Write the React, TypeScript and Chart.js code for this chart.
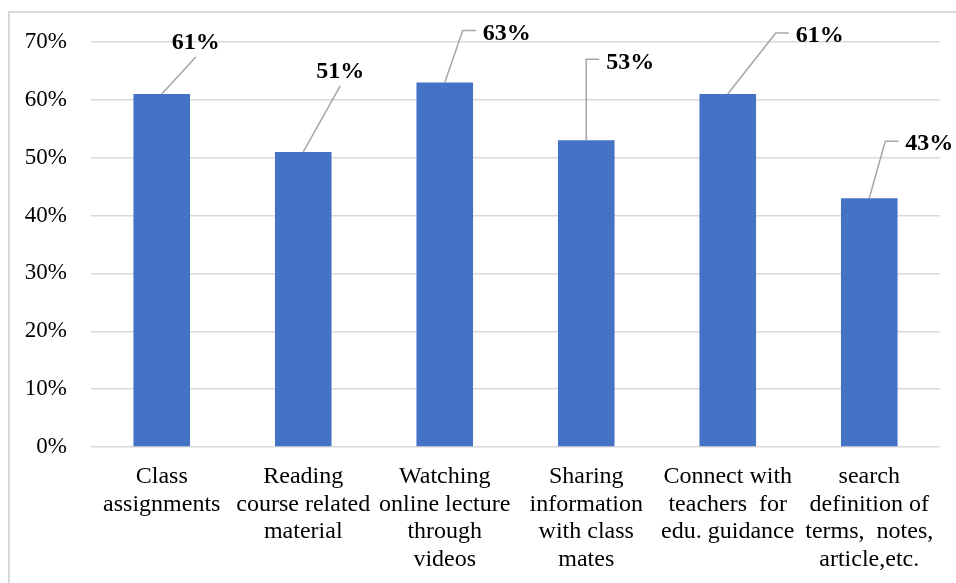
import React, { useEffect, useRef } from "react";
import { Chart, registerables } from "chart.js";

Chart.register(...registerables);

const categories: string[][] = [
  ["Class", "assignments"],
  ["Reading", "course related", "material"],
  ["Watching", "online lecture", "through", "videos"],
  ["Sharing", "information", "with class", "mates"],
  ["Connect with", "teachers  for", "edu. guidance"],
  ["search", "definition of", "terms,  notes,", "article,etc."],
];
const values: number[] = [61, 51, 63, 53, 61, 43];
const yTicks: number[] = [0, 10, 20, 30, 40, 50, 60, 70];

// label leader layout (relative to bar top): type, dx, dy
const labelLayout: { type: "v" | "h"; dx: number; dy: number }[] = [
  { type: "v", dx: 34, dy: -37 },
  { type: "v", dx: 37, dy: -66 },
  { type: "h", dx: 18, dy: -52 },
  { type: "h", dx: 0, dy: -81 },
  { type: "h", dx: 48, dy: -61 },
  { type: "h", dx: 16, dy: -57 },
];

const FONT = "'Liberation Serif', 'Times New Roman', serif";

const labelPlugin = {
  id: "leaderLabels",
  afterDatasetsDraw(chart: any) {
    const ctx = chart.ctx;
    const meta = chart.getDatasetMeta(0);
    ctx.save();
    ctx.strokeStyle = "#a6a6a6";
    ctx.lineWidth = 1.5;
    ctx.fillStyle = "#000";
    ctx.font = `bold 24px ${FONT}`;
    ctx.textBaseline = "middle";
    meta.data.forEach((bar: any, i: number) => {
      const lay = labelLayout[i];
      const bx = bar.x;
      const by = bar.y;
      const ex = bx + lay.dx;
      const ey = by + lay.dy;
      const txt = values[i] + "%";
      ctx.beginPath();
      ctx.moveTo(bx, by);
      ctx.lineTo(ex, ey);
      if (lay.type === "h") {
        ctx.lineTo(ex + 13, ey);
      }
      ctx.stroke();
      if (lay.type === "h") {
        ctx.textAlign = "left";
        ctx.fillText(txt, ex + 20, ey + 3);
      } else {
        ctx.textAlign = "center";
        ctx.fillText(txt, ex, ey - 14);
      }
    });
    ctx.restore();
  },
};

export default function App() {
  const ref = useRef<HTMLCanvasElement | null>(null);
  useEffect(() => {
    if (!ref.current) return;
    const chart = new Chart(ref.current, {
      type: "bar",
      data: {
        labels: categories,
        datasets: [
          {
            data: values,
            backgroundColor: "#4472C4",
            borderWidth: 0,
            barPercentage: 0.4,
            categoryPercentage: 1,
          },
        ],
      },
      options: {
        responsive: false,
        animation: false,
        layout: { padding: { left: 0, top: 42, right: 16, bottom: 0 } },
        plugins: {
          legend: { display: false },
          tooltip: { enabled: false },
        },
        scales: {
          x: {
            grid: { display: false, drawTicks: false },
            border: { display: false },
            ticks: {
              color: "#000",
              font: { family: FONT, size: 24, lineHeight: 1.15 },
              padding: 16,
              autoSkip: false,
              maxRotation: 0,
              minRotation: 0,
            },
            afterFit: (s: any) => {
              s.height = 136;
            },
          },
          y: {
            min: 0,
            max: 70,
            grid: { color: "#d9d9d9", lineWidth: 1.5, drawTicks: false },
            border: { display: false },
            afterBuildTicks: (s: any) => {
              s.ticks = yTicks.map((v) => ({ value: v }));
            },
            ticks: {
              color: "#000",
              font: { family: FONT, size: 23 },
              padding: 24,
              callback: (v: any) => v + "%",
            },
            afterFit: (s: any) => {
              s.width = 91;
            },
          },
        },
      },
      plugins: [labelPlugin],
    });
    return () => chart.destroy();
  }, []);
  return (
    <div
      style={{
        position: "absolute",
        left: 0,
        top: 0,
        width: 956,
        height: 583,
        overflow: "hidden",
        background: "#fff",
      }}
    >
      <div
        style={{
          position: "absolute",
          left: 8,
          top: 11,
          width: 1000,
          height: 700,
          border: "2px solid #d9d9d9",
        }}
      />
      <canvas
        ref={ref}
        width={956}
        height={583}
        style={{ position: "absolute", left: 0, top: 0 }}
      />
    </div>
  );
}
